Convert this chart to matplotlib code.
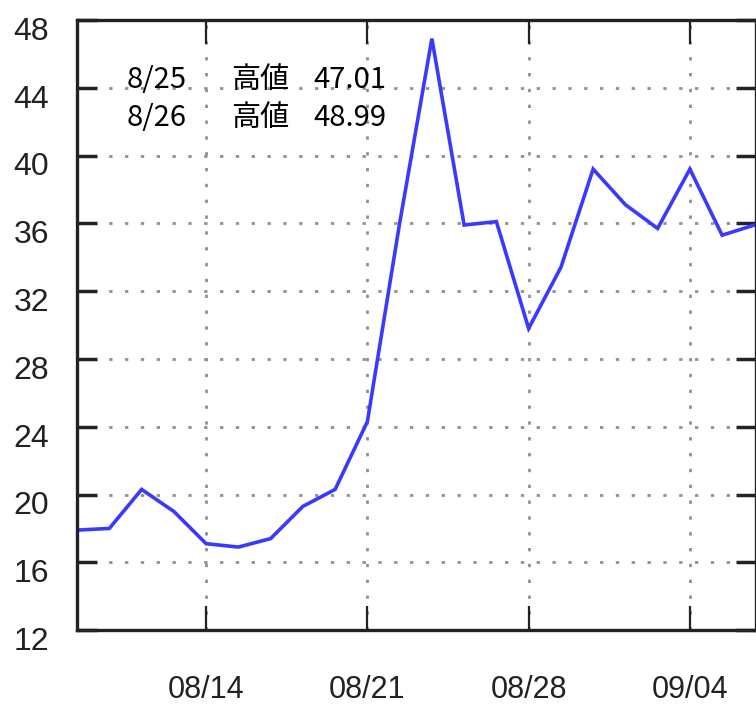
import matplotlib
matplotlib.use('Agg')
from matplotlib import pyplot as plt
from matplotlib import transforms
import numpy as np

# daily (trading-day) values
values = [17.9, 18.0, 20.3, 19.0, 17.1, 16.9, 17.4, 19.3, 20.3, 24.3,
          36.0, 46.9, 35.9, 36.1, 29.8, 33.4, 39.2, 37.1, 35.7, 39.2,
          35.3, 35.9]
tick_pos = [4, 9, 14, 19]
tick_labels = ['08/14', '08/21', '08/28', '09/04']
y_ticks = [12, 16, 20, 24, 28, 32, 36, 40, 44, 48]
notes = [('8/25', '高値', '47.01'), ('8/26', '高値', '48.99')]

plt.rcParams['font.family'] = ['Liberation Sans Narrow', 'Liberation Sans', 'DejaVu Sans']

fig = plt.figure(figsize=(7.56, 7.12), dpi=100)
ax = fig.add_axes([0.102, 0.115, 0.898, 0.857])

x = np.arange(len(values))
ax.plot(x, values, color='#3a3aff', lw=2.6, solid_joinstyle='miter')

ax.set_xlim(0, 21.05)
ax.set_ylim(12, 48)
ax.set_xticks(tick_pos)
ax.set_xticklabels(tick_labels)
ax.set_yticks(y_ticks)

ax.grid(True, color='#909090', linestyle=(0, (1.2, 4.5)), lw=2.0)
ax.tick_params(axis='x', direction='in', length=17, width=1.6, top=True,
               bottom=True, pad=32, labelsize=22, colors='#222222')
ax.tick_params(axis='y', direction='in', length=14.5, width=2.5, left=True,
               right=True, pad=20, labelsize=23, colors='#222222')
for lab in ax.get_yticklabels():
    lab.set_family(['Liberation Sans', 'DejaVu Sans'])
    lab.set_transform(lab.get_transform() +
                      transforms.ScaledTranslation(0, -6 / 72, fig.dpi_scale_trans))
for sp in ax.spines.values():
    sp.set_linewidth(2.4)
    sp.set_color('#222222')

# annotation text in upper left
for i, (d, k, v) in enumerate(notes):
    yy = 1 - (80 + i * 38) / 712
    fig.text(127 / 756, yy, d, fontsize=21, va='center',
             family=['Noto Sans CJK JP', 'DejaVu Sans'])
    fig.text(231 / 756, yy, k, fontsize=21, va='center',
             family=['Noto Sans CJK JP', 'DejaVu Sans'])
    fig.text(313 / 756, yy, v, fontsize=21, va='center',
             family=['Noto Sans CJK JP', 'DejaVu Sans'])

fig.savefig('out.png', dpi=100)
